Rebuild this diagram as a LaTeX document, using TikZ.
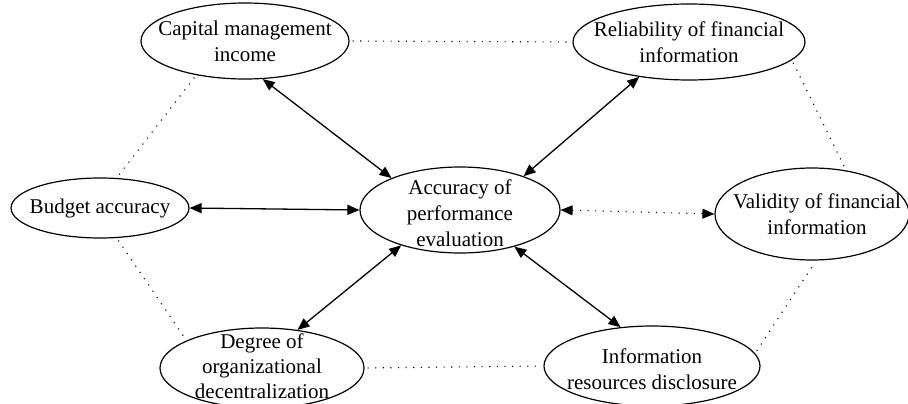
\documentclass[tikz,border=0pt]{standalone}
\usepackage{fontspec}
\setmainfont{Liberation Serif}
\usetikzlibrary{arrows.meta,positioning,shapes.geometric}

\begin{document}
\begin{tikzpicture}[x=1pt, y=1pt, font=\fontsize{21}{26}\selectfont,
  oval/.style={draw, ellipse, line width=1.2pt, inner sep=0pt},
  lbl/.style={align=center, inner sep=0pt},
  arr/.style={{Triangle[length=12pt,width=10pt]}-{Triangle[length=12pt,width=10pt]}, line width=1.3pt},
  dots/.style={line width=1.1pt, dash pattern=on 1.1pt off 6.5pt, shorten >=3pt, shorten <=3pt}]
  \useasboundingbox (0,0) rectangle (908,-404);
  % the seven ovals
  \node[oval, minimum width=208pt, minimum height=76pt] (cap) at (245,-41) {};
  \node[oval, minimum width=232pt, minimum height=76pt] (rel) at (689,-42) {};
  \node[oval, minimum width=178pt, minimum height=60pt] (bud) at (100,-208) {};
  \node[oval, minimum width=200pt, minimum height=86pt] (acc) at (460,-210) {};
  \node[oval, minimum width=194pt, minimum height=92pt] (val) at (812,-214) {};
  \node[oval, minimum width=204pt, minimum height=80pt] (deg) at (262,-368) {};
  \node[oval, minimum width=216pt, minimum height=80pt] (inf) at (652,-366) {};
  \node[lbl] (cap-t) at (cap) {Capital management\\income};
  \node[lbl] (rel-t) at (rel) {Reliability of financial\\information};
  \node[lbl] (bud-t) at (bud) {Budget accuracy};
  \node[lbl] (acc-t) at ([yshift=-3pt]acc) {Accuracy of\\performance\\evaluation};
  \node[lbl] (val-t) at ([xshift=5pt]val) {Validity of financial\\information};
  \node[lbl, font=\fontsize{21}{25}\selectfont] (deg-t) at ([yshift=2pt]deg) {Degree of\\organizational\\decentralization};
  \node[lbl] (inf-t) at ([yshift=-3pt]inf) {Information\\resources disclosure};
  % links to the centre
  \draw[arr] (cap.-65) -- (acc.155); \draw[arr] (rel.215) -- (acc.28); \draw[arr] (bud.east) -- (acc.west);
  \draw[arr, dots, shorten >=0pt, shorten <=0pt] (acc.east) -- (val.west);
  \draw[arr] (deg.47) -- (acc.211); \draw[arr] (inf.129) -- (acc.-34);
  % outer ring
  \draw[dots] (cap.east) -- (rel.west); \draw[dots] (cap.215) -- (bud.61); \draw[dots] (rel.-10) -- (val.52);
  \draw[dots] (bud.-61) -- (deg.160); \draw[dots] (deg.east) -- (inf.west); \draw[dots] (inf.7) -- (val.-85);
\end{tikzpicture}
\end{document}
